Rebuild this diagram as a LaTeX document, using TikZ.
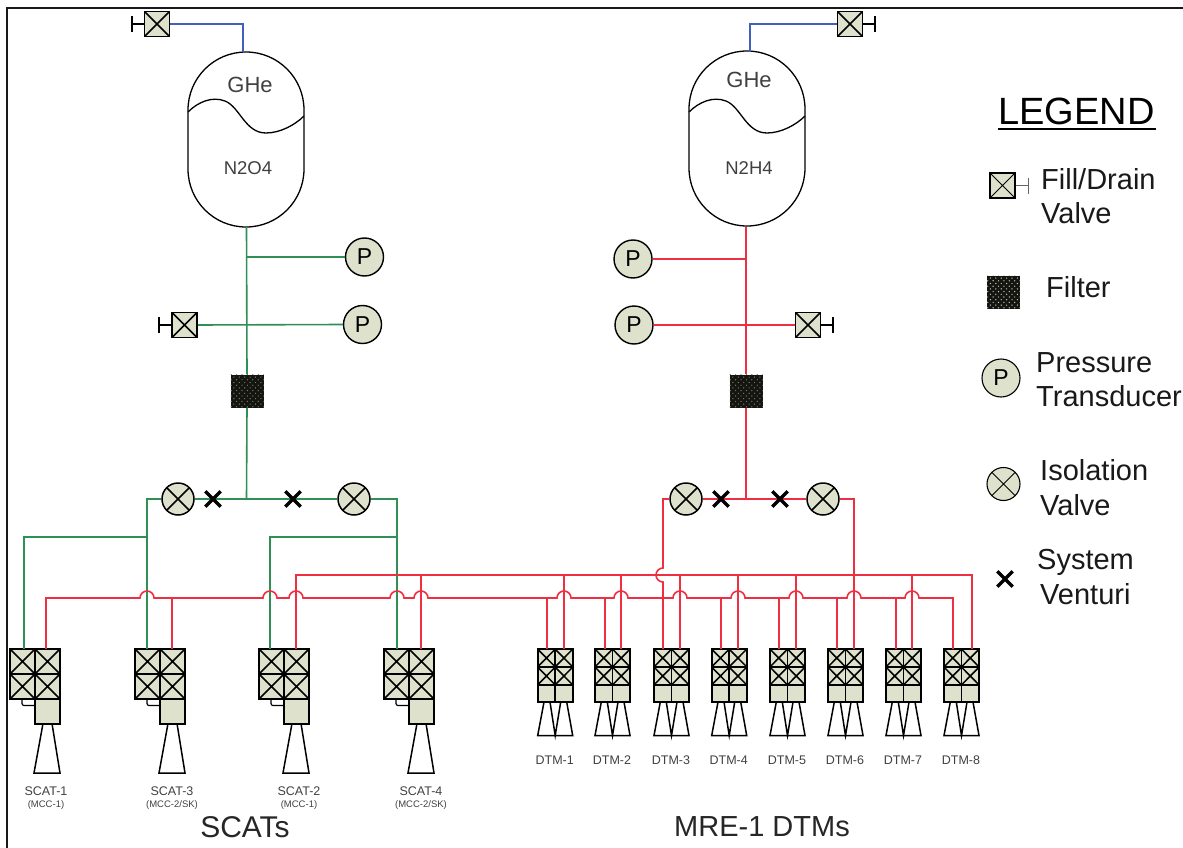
\documentclass[tikz,border=0pt]{standalone}
\usepackage{fontspec}
\setmainfont{Liberation Sans}
\usetikzlibrary{shapes.misc,calc}
\definecolor{vfill}{HTML}{DEE1CC}
\definecolor{pgreen}{HTML}{2F8F55}
\definecolor{pred}{HTML}{EE2F42}
\definecolor{pblue}{HTML}{4060BC}
\definecolor{lbl}{HTML}{404040}
\definecolor{fdark}{HTML}{141410}
\definecolor{fdotA}{HTML}{7A7A68}
\definecolor{fdotB}{HTML}{C8CAB8}
\newcommand{\fs}[1]{\fontsize{#1pt}{#1pt}\selectfont}
\newcommand{\hopx}[1]{-- ({#1-7},598) arc[start angle=180,end angle=360,radius=7]}
\tikzset{
  xmark/.style={path picture={
    \draw[black,line width=#1] (path picture bounding box.north west) -- (path picture bounding box.south east)
      (path picture bounding box.north east) -- (path picture bounding box.south west);}},
  valvebox/.style={draw=black,fill=vfill,line width=1.6pt,minimum size=25pt,inner sep=0pt,rectangle,xmark=1.5pt},
  cellbox/.style={draw=black,fill=vfill,line width=1.6pt,inner sep=0pt,rectangle,xmark=1.5pt},
  plainbox/.style={draw=black,fill=vfill,line width=1.6pt,inner sep=0pt,rectangle},
  isoval/.style={draw=black,fill=vfill,line width=1.5pt,circle,minimum size=32pt,inner sep=0pt,xmark=1.5pt},
  ptrans/.style={draw=black,fill=vfill,line width=1.4pt,circle,minimum size=38pt,inner sep=0pt,font=\fs{23}},
  venturi/.style={cross out,draw=black,line width=3.3pt,minimum size=12pt,inner sep=0pt},
  tankbody/.style={draw=black,line width=1.3pt,rectangle,rounded corners=58pt,minimum width=116pt,minimum height=175pt,inner sep=0pt},
  filterbox/.style={draw=none,fill=fdark,minimum size=33pt,inner sep=0pt,rectangle,path picture={
    \foreach \i in {0,...,12}{\foreach \j in {0,...,12}{
      \pgfmathtruncatemacro{\parit}{mod(\i+\j,2)}
      \ifnum\parit=0
      \fill[#1] ([xshift={(\i*2.7+0.7)*1pt},yshift={(\j*2.7+0.7)*1pt}]path picture bounding box.south west) circle (0.7pt);
      \fi}}}},
  gline/.style={draw=pgreen,line width=1.6pt},
  rline/.style={draw=pred,line width=1.6pt},
  bline/.style={draw=pblue,line width=1.4pt},
  handle/.style={draw=black,line width=1.5pt},
  nozzle/.style={draw=black,line width=1.5pt,line join=miter},
  small/.style={text=lbl,inner sep=0pt,font=\fs{12.5}},
  tiny/.style={text=lbl,inner sep=0pt,font=\fs{9.5}},
  big/.style={text=black!85,inner sep=0pt,font=\fs{29}},
  legtext/.style={text=black!90,inner sep=0pt,anchor=base west,font=\fs{29}},
  tanklbl/.style={text=lbl,inner sep=0pt},
}
\begin{document}
\begin{tikzpicture}[x=1pt,y=-1pt]
\useasboundingbox (0,0) rectangle (1183,848);
\coordinate (fa) at (7,848); \coordinate (fb) at (7,8); \coordinate (fc) at (1183,8);
\draw[black!90,line width=2pt] (fa) -- (fb) -- (fc);

% tanks
\node[tankbody] (tankL) at (246,139.5) {};
\node[tankbody] (tankR) at (747,138.5) {};
\coordinate (wL0) at (188,112); \coordinate (wL1) at (304,116);
\draw[black,line width=1.3pt] (wL0) .. controls (198,102) and (212,96) .. (225,101)
   .. controls (240,107) and (245,133) .. (266,133) .. controls (280,133) and (295,125) .. (wL1);
\coordinate (wR0) at (689,112); \coordinate (wR1) at (805,116);
\draw[black,line width=1.3pt] (wR0) .. controls (699,102) and (713,96) .. (726,101)
   .. controls (741,107) and (746,133) .. (767,133) .. controls (781,133) and (796,125) .. (wR1);
\node[tanklbl,font=\fs{22}] (gheL) at (250,85) {GHe};
\node[tanklbl,font=\fs{22}] (gheR) at (749,80) {GHe};
\node[tanklbl,font=\fs{18.5}] (oxL) at (248,168) {N2O4};
\node[tanklbl,font=\fs{18.5}] (fuR) at (749,168) {N2H4};

% valves, transducers, filters
\node[valvebox] (fdL) at (157,24) {};
\node[valvebox] (fdR) at (850,24) {};
\node[valvebox] (fdL2) at (184.5,325) {};
\node[valvebox] (fdR2) at (808,325) {};
\node[ptrans] (pL1) at (364.5,257) {P};
\node[ptrans] (pL2) at (362.5,324.5) {P};
\node[ptrans] (pR1) at (633,259) {P};
\node[ptrans] (pR2) at (634,325) {P};
\node[filterbox=fdotA] (filL) at (247,391) {};
\node[filterbox=fdotA] (filR) at (746,391) {};
\node[isoval] (isoL1) at (178,499) {};
\node[isoval] (isoL2) at (354,499) {};
\node[isoval] (isoR1) at (686,499) {};
\node[isoval] (isoR2) at (823,499) {};

% handles
\coordinate (hA) at (132,24); \coordinate (hB) at (875,24); \coordinate (hC) at (159,325); \coordinate (hD) at (833,325);
\foreach \v/\h/\s in {fdL/hA/west,fdR/hB/east,fdL2/hC/west,fdR2/hD/east}{
  \draw[handle] (\v.\s) -- (\h);
  \draw[handle] ($(\h)+(0,-8)$) -- ($(\h)+(0,8)$);
}

% helium lines
\coordinate (heL) at (243,52); \coordinate (heR) at (750,52);
\draw[bline] (fdL.east) -| (heL);
\draw[bline] (fdR.west) -| (heR);

% engine assemblies
\foreach \n/\x/\g/\r/\lx/\m in {1/10/24/46/46/MCC-1,3/135/147/172/172/MCC-2\slash SK,2/259/270/296/299/MCC-1,4/384/397/421/421/MCC-2\slash SK}{
  \node[cellbox,minimum size=25pt] (s\n a) at ({\x+12.5},661.5) {};
  \node[cellbox,minimum size=25pt] (s\n b) at ({\x+37.5},661.5) {};
  \node[cellbox,minimum size=25pt] (s\n c) at ({\x+12.5},686.5) {};
  \node[cellbox,minimum size=25pt] (s\n d) at ({\x+37.5},686.5) {};
  \node[plainbox,minimum size=25pt] (e\n) at ({\x+37.5},711.5) {};
  \coordinate (t\n) at ({\x+12},699); \coordinate (u\n) at ({\x+25},705.5);
  \draw[black,line width=1.2pt,rounded corners=2pt] (t\n) |- (u\n);
  \coordinate (n\n a) at ({\x+33},723.5); \coordinate (n\n b) at ({\x+42},723.5);
  \coordinate (n\n c) at ({\x+50},773); \coordinate (n\n d) at ({\x+24},773);
  \draw[nozzle] (n\n a) -- (n\n d) -- (n\n c) -- (n\n b);
  \node[small] (sl\n) at (\lx,791) {SCAT-\n};
  \node[tiny] (sm\n) at (\lx,805) {(\m)};
  \coordinate (g\n) at (\g,649); \coordinate (r\n) at (\r,649);
}
\foreach \n/\x/\a/\b in {1/537.7/547/564,2/595/605/621,3/654/663/680,4/711.7/721/738,5/770/779/796,6/828/837/854,7/886/896/912,8/944/953/972}{
  \node[cellbox,minimum width=17.5pt,minimum height=17.7pt] (d\n a) at ({\x+8.75},658) {};
  \node[cellbox,minimum width=17.5pt,minimum height=17.7pt] (d\n b) at ({\x+26.25},658) {};
  \node[cellbox,minimum width=17.5pt,minimum height=17.7pt] (d\n c) at ({\x+8.75},676) {};
  \node[cellbox,minimum width=17.5pt,minimum height=17.7pt] (d\n d) at ({\x+26.25},676) {};
  \node[plainbox,minimum width=17.5pt,minimum height=17pt] (d\n e) at ({\x+8.75},693.5) {};
  \node[plainbox,minimum width=17.5pt,minimum height=17pt] (d\n f) at ({\x+26.25},693.5) {};
  \coordinate (k\n a) at ({\x+6.3},702); \coordinate (k\n b) at ({\x+12.3},702);
  \coordinate (k\n c) at ({\x+23},702); \coordinate (k\n d) at ({\x+29},702);
  \coordinate (k\n l) at (\x,735.5); \coordinate (k\n m) at ({\x+17.5},735.5); \coordinate (k\n r) at ({\x+35},735.5);
  \draw[nozzle] (k\n a) -- (k\n l) -- (k\n r) -- (k\n d) (k\n b) -- (k\n m) -- (k\n c);
  \node[small] (dl\n) at ({\x+17},760.5) {DTM-\n};
  \coordinate (da\n) at (\a,649); \coordinate (db\n) at (\b,649);
}

% oxidizer lines
\coordinate (oxT) at (246.5,227); \coordinate (oxJ1) at (246.5,257); \coordinate (oxJ2) at (246.5,325); \coordinate (oxJ3) at (246.5,499);
\draw[gline] (oxT) -- (filL.north);
\draw[gline] (filL.south) -- (oxJ3);
\draw[gline] (oxJ1) -- (pL1.west);
\draw[gline] (fdL2.east) -- (pL2.west);
\draw[gline] (isoL1.east) -- (isoL2.west);
\coordinate (oxB) at (147,537); \coordinate (oxC) at (397,537);
\draw[gline] (isoL1.west) -| (g3);
\draw[gline] (isoL2.east) -| (g4);
\draw[gline] (oxB) -| (g1);
\draw[gline] (oxC) -| (g2);

% fuel lines
\coordinate (fuT) at (746,227); \coordinate (fuJ1) at (746,259); \coordinate (fuJ2) at (746,325); \coordinate (fuJ3) at (746,499);
\draw[rline] (fuT) -- (filR.north);
\draw[rline] (filR.south) -- (fuJ3);
\draw[rline] (pR1.east) -- (fuJ1);
\draw[rline] (pR2.east) -- (fdR2.west);
\draw[rline] (isoR1.east) -- (isoR2.west);
\coordinate (hopT) at (663,568); \coordinate (hopB) at (663,582);
\coordinate (isoLc) at (663,499);
\draw[rline] (isoR1.west) -- (isoLc) -- (hopT) arc[start angle=270,end angle=90,radius=7] -- (da3);
\draw[rline] (isoR2.east) -| (db6);

% venturis sit on the lines
\node[venturi] (vL1) at (213,499) {};
\node[venturi] (vL2) at (293,499) {};
\node[venturi] (vR1) at (721,499) {};
\node[venturi] (vR2) at (780,499) {};

% lower manifold
\coordinate (lowEnd) at (953,598);
\draw[rline] (r1) |- (100,598) \hopx{147} \hopx{270} \hopx{296} \hopx{397} \hopx{421} \hopx{564} \hopx{621} \hopx{680} \hopx{738} \hopx{796} \hopx{854} \hopx{912} -- (lowEnd) -- (da8);
\foreach \c/\x in {r3/172,da1/547,da2/605,da4/721,da5/779,da6/837,da7/896}{
  \coordinate (j\c) at (\x,598);
  \draw[rline] (j\c) -- (\c);
}
% upper manifold
\coordinate (upL) at (296,575); \coordinate (upR) at (972,575);
\draw[rline] (r2) -- (upL) -- (upR) -- (db8);
\foreach \c/\x in {r4/421,db1/564,db2/621,db3/680,db4/738,db5/796,db7/912}{
  \coordinate (i\c) at (\x,575);
  \draw[rline] (i\c) -- (\c);
}

% group titles
\node[big,font=\fs{30}] (tS) at (245,827) {SCATs};
\node[big] (tM) at (762,827) {MRE-1 DTMs};

% legend
\node[text=black,inner sep=0pt,font=\fs{38}] (leg) at (1076.5,111) {LEGEND};
\coordinate (ula) at (997.5,129.5); \coordinate (ulb) at (1156,129.5);
\draw[black,line width=2pt] (ula) -- (ulb);
\node[valvebox,xmark=0.9pt,line width=1.1pt] (lgV) at (1002.5,185.5) {};
\coordinate (lgH) at (1028,185.5);
\draw[draw=black!60,line width=1pt] (lgV.east) -- (lgH) ($(lgH)+(0,-8)$) -- ($(lgH)+(0,8)$);
\node[legtext] (t1) at (1041,189) {Fill/Drain};
\node[legtext] (t2) at (1041,223) {Valve};
\node[filterbox=fdotB] (lgF) at (1003.5,292) {};
\node[legtext] (t3) at (1046,297) {Filter};
\node[ptrans,line width=1.1pt] (lgP) at (1001,378) {P};
\node[legtext] (t4) at (1036,372) {Pressure};
\node[legtext] (t5) at (1036,406) {Transducer};
\node[isoval,line width=1.1pt,xmark=0.9pt,minimum size=33pt] (lgI) at (1003.5,484) {};
\node[legtext] (t6) at (1040,480) {Isolation};
\node[legtext] (t7) at (1040,515) {Valve};
\node[venturi] (lgX) at (1005,579) {};
\node[legtext] (t8) at (1037,569) {System};
\node[legtext] (t9) at (1040,604) {Venturi};
\end{tikzpicture}
\end{document}
